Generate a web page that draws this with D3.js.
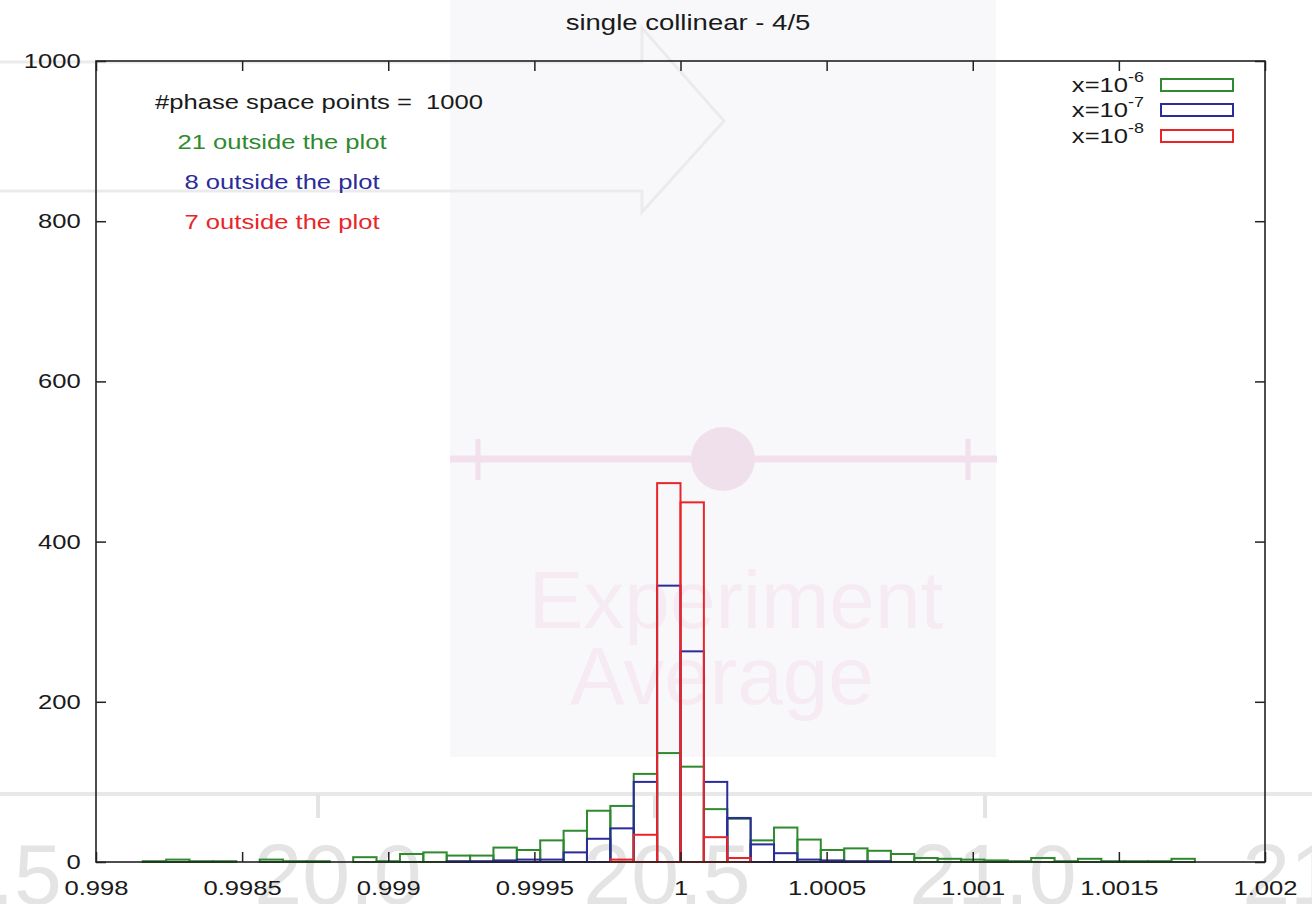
<!DOCTYPE html>
<html>
<head>
<meta charset="utf-8">
<script src="https://cdn.jsdelivr.net/npm/d3@7"></script>
<style>
  html, body { margin: 0; padding: 0; background: #ffffff; }
  svg { display: block; }
  text { font-family: "Liberation Sans", Arial, Helvetica, sans-serif; }
</style>
</head>
<body>
<svg id="chart" width="1312" height="904"></svg>
<script>
// ---------------- data ----------------
const title = "single collinear - 4/5";
const binStart = 0.998;
const binWidth = 0.00008;
const xDomain = [0.998, 1.002];
const yDomain = [0, 1000];
const xTickValues = [0.998, 0.9985, 0.999, 0.9995, 1, 1.0005, 1.001, 1.0015, 1.002];
const xTickLabels = ["0.998", "0.9985", "0.999", "0.9995", "1", "1.0005", "1.001", "1.0015", "1.002"];
const yTickValues = [0, 200, 400, 600, 800, 1000];
const yTickLabels = ["0", "200", "400", "600", "800", "1000"];

const seriesNames = ["x=10", "x=10", "x=10"];
const seriesExponents = ["-6", "-7", "-8"];
const seriesColors = ["#2f8a2f", "#2b2b9b", "#e8262a"];

// counts per bin (50 bins of width 0.00008 from 0.998)
const countsX6 = [0, 0, 1, 3, 1, 1, 0, 3, 1, 1,
                  0, 6, 1, 10, 12, 8, 8, 18, 15, 27,
                  39, 64, 70, 110, 136, 119, 66, 54, 27, 43,
                  28, 15, 17, 14, 10, 5, 4, 3, 2, 1,
                  5, 1, 4, 1, 1, 1, 4, 0, 0, 0];
const countsX7 = [0, 0, 0, 0, 0, 0, 0, 0, 0, 0,
                  0, 0, 0, 0, 0, 1, 1, 2, 3, 3,
                  12, 29, 42, 100, 345, 263, 100, 55, 22, 11,
                  3, 2, 1, 1, 0, 0, 0, 0, 0, 0,
                  0, 0, 0, 0, 0, 0, 0, 0, 0, 0];
const countsX8 = [0, 0, 0, 0, 0, 0, 0, 0, 0, 0,
                  0, 0, 0, 0, 0, 0, 0, 0, 0, 0,
                  0, 0, 3, 34, 473, 449, 31, 5, 0, 0,
                  0, 0, 0, 0, 0, 0, 0, 0, 0, 0,
                  0, 0, 0, 0, 0, 0, 0, 0, 0, 0];
const seriesCounts = [countsX6, countsX7, countsX8];

const noteLines = ["21 outside the plot", "8 outside the plot", "7 outside the plot"];
const headerNote = "#phase space points =\u00a0 1000";

// watermark (faint overlay visible in the reference)
const wmNumbers = [".5", "20.0", "20.5", "21.0", "21"];
const wmNumberPos = [26, 338, 667, 993, 1290];

// ---------------- layout ----------------
const svg = d3.select("#chart");
const W = 1312, H = 904;
const margin = {left: 96, right: 47, top: 61, bottom: 42};
const x = d3.scaleLinear().domain(xDomain).range([margin.left, W - margin.right]);
const y = d3.scaleLinear().domain(yDomain).range([H - margin.bottom, margin.top]);
const SX = 1.28;       // horizontal stretch of the reference's fonts
const FS = 20;

// ---------------- watermark layer ----------------
const wm = svg.append("g").attr("class", "watermark");
wm.append("rect").attr("x", 450).attr("y", 0).attr("width", 546).attr("height", 757)
  .attr("fill", "#f8f8fa");
wm.append("polyline")
  .attr("points", "0,62 642,62 642,28 724,121 642,212 642,191 0,191")
  .attr("fill", "none").attr("stroke", "#ebebeb").attr("stroke-width", 3);
wm.append("line").attr("x1", 0).attr("x2", W).attr("y1", 794).attr("y2", 794)
  .attr("stroke", "#e8e8e8").attr("stroke-width", 4);
[318, 655, 985].forEach(px => {
  wm.append("line").attr("x1", px).attr("x2", px).attr("y1", 794).attr("y2", 818)
    .attr("stroke", "#e4e4e4").attr("stroke-width", 4);
});
wm.selectAll("text.wmnum").data(wmNumbers).join("text")
  .attr("class", "wmnum")
  .attr("x", (d, i) => wmNumberPos[i]).attr("y", 904)
  .attr("text-anchor", "middle").attr("font-size", 86).attr("fill", "#e4e4e4")
  .text(d => d);
wm.append("line").attr("x1", 450).attr("x2", 997).attr("y1", 459).attr("y2", 459)
  .attr("stroke", "#f2e1ec").attr("stroke-width", 7);
[478, 968].forEach(px => {
  wm.append("line").attr("x1", px).attr("x2", px).attr("y1", 439).attr("y2", 480)
    .attr("stroke", "#f2e1ec").attr("stroke-width", 5);
});
wm.append("circle").attr("cx", 723).attr("cy", 459).attr("r", 32).attr("fill", "#f0e0eb");
wm.append("text").attr("x", 736).attr("y", 628).attr("text-anchor", "middle")
  .attr("font-size", 82).attr("fill", "#f7ebf3").text("Experiment");
wm.append("text").attr("x", 722).attr("y", 704).attr("text-anchor", "middle")
  .attr("font-size", 82).attr("fill", "#f7ebf3").text("Average");

// ---------------- histograms ----------------
const bars = svg.append("g").attr("class", "bars");
seriesCounts.forEach((counts, si) => {
  const data = counts.map((v, i) => ({i, v})).filter(d => d.v > 0);
  bars.append("g").selectAll("rect").data(data).join("rect")
    .attr("x", d => x(binStart + d.i * binWidth))
    .attr("width", d => x(binStart + (d.i + 1) * binWidth) - x(binStart + d.i * binWidth))
    .attr("y", d => y(d.v))
    .attr("height", d => y(0) - y(d.v))
    .attr("fill", "none")
    .attr("stroke", seriesColors[si])
    .attr("stroke-width", 2);
});

// ---------------- axes ----------------
function styleText(sel) {
  sel.selectAll("text").attr("font-size", FS).attr("fill", "#1a1a1a")
    .attr("font-family", "Liberation Sans, Arial, sans-serif")
    .attr("transform", `scale(${SX},1)`);
}
const gx = svg.append("g").attr("transform", `translate(0,${y(0)})`)
  .call(d3.axisBottom(x).tickValues(xTickValues)
    .tickFormat((d, i) => xTickLabels[i]).tickSizeInner(-10).tickSizeOuter(0).tickPadding(19));
const gxTop = svg.append("g").attr("transform", `translate(0,${y(1000)})`)
  .call(d3.axisTop(x).tickValues(xTickValues).tickFormat("").tickSizeInner(-10).tickSizeOuter(0));
const gy = svg.append("g").attr("transform", `translate(${x(0.998)},0)`)
  .call(d3.axisLeft(y).tickValues(yTickValues)
    .tickFormat((d, i) => yTickLabels[i]).tickSizeInner(-10).tickSizeOuter(0).tickPadding(12));
const gyRight = svg.append("g").attr("transform", `translate(${x(1.002)},0)`)
  .call(d3.axisRight(y).tickValues(yTickValues).tickFormat("").tickSizeInner(-10).tickSizeOuter(0));
[gx, gxTop, gy, gyRight].forEach(g => {
  g.select(".domain").remove();
  g.selectAll("line").attr("stroke", "#222").attr("stroke-width", 1.5);
  styleText(g);
});
// frame
svg.append("rect").attr("x", x(0.998)).attr("y", y(1000))
  .attr("width", x(1.002) - x(0.998)).attr("height", y(0) - y(1000))
  .attr("fill", "none").attr("stroke", "#222").attr("stroke-width", 1.6);

// ---------------- title and notes ----------------
function stretchedText(px, py, anchor, txt, color, size) {
  return svg.append("text")
    .attr("transform", `translate(${px},${py}) scale(${SX},1)`)
    .attr("text-anchor", anchor).attr("font-size", size || FS)
    .attr("fill", color).text(txt);
}
stretchedText(688, 30, "middle", title, "#1a1a1a", 21.5);
stretchedText(155, 109, "start", headerNote, "#1a1a1a");
const noteY = [149, 189, 229];
noteLines.forEach((t, i) => stretchedText(282, noteY[i], "middle", t, seriesColors[i]));

// ---------------- legend ----------------
const legendY = [92, 117, 143];
seriesNames.forEach((nm, i) => {
  const t = svg.append("text")
    .attr("transform", `translate(1144,${legendY[i]}) scale(${SX},1)`)
    .attr("text-anchor", "end").attr("font-size", FS).attr("fill", "#1a1a1a");
  t.append("tspan").text(nm);
  t.append("tspan").attr("dy", -10).attr("font-size", 14).text(seriesExponents[i]);
  svg.append("rect").attr("x", 1161).attr("y", legendY[i] - 13)
    .attr("width", 72).attr("height", 12)
    .attr("fill", "none").attr("stroke", seriesColors[i]).attr("stroke-width", 2);
});
</script>
</body>
</html>
